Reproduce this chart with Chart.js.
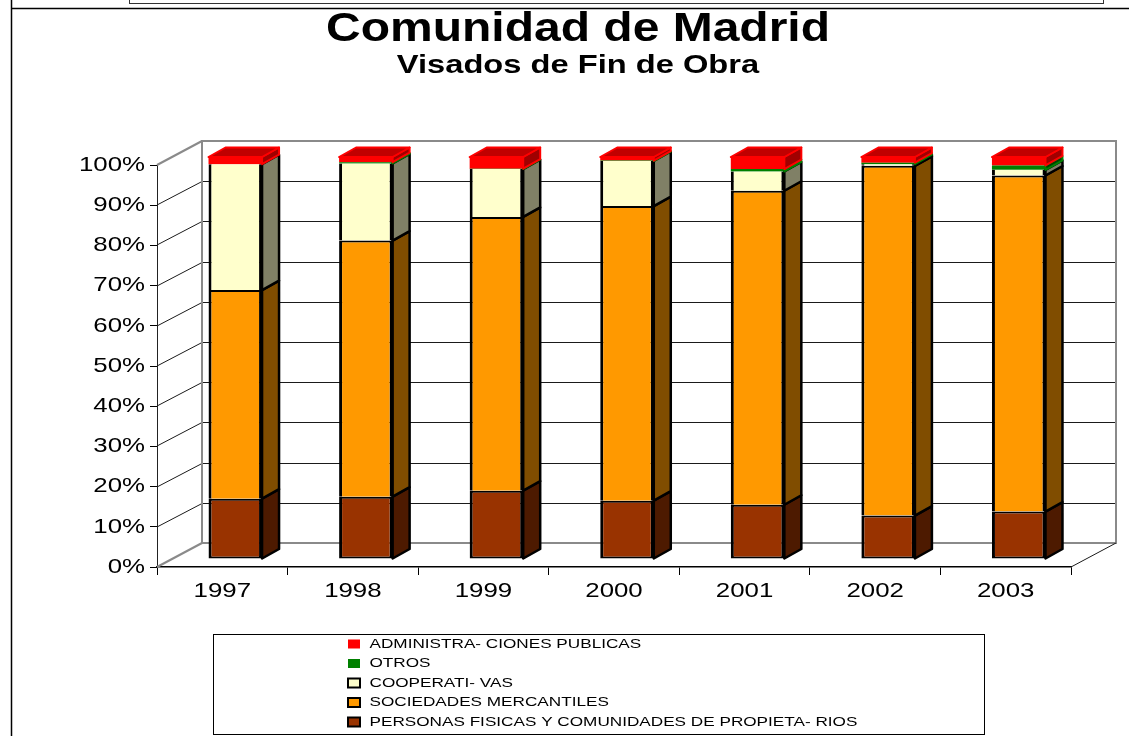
<!DOCTYPE html>
<html>
<head>
<meta charset="utf-8">
<style>html,body{margin:0;padding:0;background:#fff}canvas{display:block}</style>
<script src="https://cdn.jsdelivr.net/npm/chart.js@4/dist/chart.umd.min.js"></script>
</head>
<body>
<canvas id="c" width="1129" height="736"></canvas>
<script>
const years = ['1997','1998','1999','2000','2001','2002','2003'];
const personas = [15.0,15.5,17.0,14.5,13.5,10.8,11.8];
const sociedades = [51.9,63.7,68.1,73.3,78.1,87.0,83.6];
const cooperativas = [31.3,19.2,11.9,11.2,4.8,0.4,1.4];
const otros = [0,0.3,0.1,0.1,0.6,0.4,1.1];
const administraciones = [1.8,1.3,2.9,0.9,3.0,1.4,2.1];
const titleText = 'Comunidad de Madrid';
const subtitleText = 'Visados de Fin de Obra';
const seriesNames = ['PERSONAS FISICAS Y COMUNIDADES DE PROPIETA- RIOS','SOCIEDADES MERCANTILES','COOPERATI- VAS','OTROS','ADMINISTRA- CIONES PUBLICAS'];

const FONT = '"Liberation Sans", Arial, sans-serif';
const WALL = {dx:45, dy:-24.5};
const BAR = {dx:13, dy:-8};
const DEPTH = {dx:17, dy:-9.5};
const GRAY = '#8a8a8a';

// The reference text is horizontally stretched: draw it through a widened fillText.
function stretched(obj, method, sx, dx){
  const orig = obj[method];
  obj[method] = function(...a){
    const c = this.ctx;
    c.fillText = function(t,x,y){
      c.save(); c.translate(x+(dx||0),y); c.scale(sx,1);
      CanvasRenderingContext2D.prototype.fillText.call(c,t,0,0);
      c.restore();
    };
    const r = orig.apply(this, a);
    delete c.fillText;
    return r;
  };
}
function seg(ctx,x1,y1,x2,y2){ctx.beginPath();ctx.moveTo(x1,y1);ctx.lineTo(x2,y2);ctx.stroke();}
function poly(ctx,pts,fill,stroke,lw){
  ctx.beginPath();pts.forEach((p,i)=>i?ctx.lineTo(p[0],p[1]):ctx.moveTo(p[0],p[1]));ctx.closePath();
  ctx.fillStyle=fill;ctx.fill();
  ctx.strokeStyle=stroke;ctx.lineWidth=lw;ctx.lineJoin='round';ctx.stroke();
}

const scene = {
  id:'scene',
  afterLayout(chart){
    const lg = chart.legend;
    lg.left=341.5; lg.top=631; lg.width=640; lg.height=104; lg.right=981; lg.bottom=735;
    lg.adjustHitBoxes();
    if(chart.$wrapped) return;
    chart.$wrapped = true;
    chart.boxes.forEach(b=>{
      if(b === lg) stretched(b,'draw',1.32,3);
      else if(b.axis){ stretched(b,'drawLabels',1.23); b._computeLabelArea = ()=>undefined; }
      else if(b === chart.titleBlock) stretched(b,'draw',1.2);
      else stretched(b,'draw',1.256);
    });
  },
  beforeDraw(chart){
    const ctx = chart.ctx; ctx.save();
    ctx.strokeStyle='#000'; ctx.lineWidth=1.5;
    seg(ctx,11.5,0,11.5,736);
    seg(ctx,11,8.5,1129,8.5);
    ctx.strokeStyle='#333'; ctx.lineWidth=1;
    seg(ctx,129.5,0,129.5,3.5); seg(ctx,129,3.5,1103,3.5); seg(ctx,1103.5,0,1103.5,4);
    ctx.strokeStyle='#000';
    ctx.strokeRect(213.5,634.5,771,100);
    ctx.restore();
  },
  beforeDatasetsDraw(chart){
    const ctx = chart.ctx, y = chart.scales.y, a = chart.chartArea;
    ctx.save();
    const L=a.left+WALL.dx, R=a.right+WALL.dx;
    y.ticks.forEach(t=>{
      const py=Math.round(y.getPixelForValue(t.value)), by=Math.round(py+WALL.dy)+0.5;
      const edge = t.value===0||t.value===100;
      ctx.strokeStyle = '#1a1a1a'; ctx.lineWidth = 1;
      if(!edge){ seg(ctx,L,by,R,by); seg(ctx,a.left,py,L,by); }
    });
    ctx.strokeStyle=GRAY; ctx.lineWidth=2;
    const top=Math.round(y.getPixelForValue(100)+WALL.dy), bot=Math.round(y.getPixelForValue(0)+WALL.dy);
    ctx.beginPath();
    ctx.moveTo(L,bot);ctx.lineTo(L,top);ctx.lineTo(R,top);ctx.lineTo(R,bot);ctx.lineTo(L,bot);
    ctx.stroke();
    seg(ctx,a.left,y.getPixelForValue(100),L,top);
    seg(ctx,a.left,y.getPixelForValue(0),L,bot);
    ctx.strokeStyle='#1a1a1a'; ctx.lineWidth=1;
    seg(ctx,a.right,y.getPixelForValue(0),R,bot);
    ctx.restore();
    ctx.save();
    ctx.translate(BAR.dx,BAR.dy);
  },
  afterDatasetsDraw(chart){
    const ctx = chart.ctx, n = chart.data.labels.length;
    for(let j=0;j<n;j++){
      let lastEl=null;
      chart.data.datasets.forEach((ds,i)=>{
        const el = chart.getDatasetMeta(i).data[j];
        if(ds.data[j]<=0) return;
        const rx = el.x+el.width/2, t=el.y, b=el.base;
        poly(ctx,[[rx,t],[rx+DEPTH.dx,t+DEPTH.dy],[rx+DEPTH.dx,b+DEPTH.dy],[rx,b]],ds.sideColor,ds.edgeColor,ds.edgeWidth);
        lastEl={el,ds};
      });
      const {el,ds}=lastEl, lx=el.x-el.width/2, rx=el.x+el.width/2, t=el.y;
      poly(ctx,[[lx,t],[lx+DEPTH.dx,t+DEPTH.dy],[rx+DEPTH.dx,t+DEPTH.dy],[rx,t]],ds.topColor,ds.edgeColor,ds.edgeWidth);
    }
    ctx.restore();
  }
};

const bw = (t,b)=>({left:3,right:3,top:t,bottom:b});
new Chart(document.getElementById('c'),{
  type:'bar',
  data:{labels:years,datasets:[
    {label:seriesNames[0],data:personas,backgroundColor:'#993300',borderColor:'#000',borderWidth:bw(2,2),sideColor:'#4d1a00',edgeColor:'#000',edgeWidth:2.5,topColor:'#c05a20',legendLine:2},
    {label:seriesNames[1],data:sociedades,backgroundColor:'#ff9900',borderColor:'#000',borderWidth:bw(2,0),sideColor:'#804d00',edgeColor:'#000',edgeWidth:2.5,topColor:'#c07400',legendLine:2},
    {label:seriesNames[2],data:cooperativas,backgroundColor:'#ffffcc',borderColor:'#000',borderWidth:bw(0,0),sideColor:'#808066',edgeColor:'#000',edgeWidth:2.5,topColor:'#c0c09a',legendLine:2},
    {label:seriesNames[3],data:otros,backgroundColor:'#008000',borderWidth:0,sideColor:'#004000',edgeColor:'#008000',edgeWidth:2,topColor:'#006000',legendLine:0},
    {label:seriesNames[4],data:administraciones,backgroundColor:'#ff0000',borderWidth:0,sideColor:'#a00000',edgeColor:'#ff0000',edgeWidth:2,topColor:'#c00000',legendLine:0}
  ].map(d=>Object.assign(d,{stack:'a',clip:false,borderSkipped:false}))},
  plugins:[scene],
  options:{
    responsive:false,
    animation:false,
    events:[],
    datasets:{bar:{barPercentage:0.41,categoryPercentage:1}},
    layout:{padding:{left:85,right:58,top:0,bottom:0}},
    plugins:{
      tooltip:{enabled:false},
      title:{display:true,text:titleText,color:'#000',font:{family:FONT,size:40,weight:'bold',lineHeight:1.0},padding:{top:10,bottom:0}},
      subtitle:{display:true,text:subtitleText,color:'#000',font:{family:FONT,size:26,weight:'bold',lineHeight:1.2},padding:{top:0,bottom:83.8}},
      legend:{
        display:true,position:'chartArea',align:'start',
        labels:{
          color:'#000',font:{family:FONT,size:13},boxWidth:12,boxHeight:9,padding:6.5,
          generateLabels(chart){
            return Chart.defaults.plugins.legend.labels.generateLabels(chart).map(it=>{
              const ds=chart.data.datasets[it.datasetIndex];
              return Object.assign(it,{lineWidth:ds.legendLine,strokeStyle:ds.legendLine?'#000':ds.backgroundColor,fontColor:'#000'});
            }).reverse();
          }
        }
      }
    },
    scales:{
      x:{
        stacked:true,
        afterFit(s){s.height=169;},
        border:{display:true,color:'#000',width:1.5},
        grid:{display:true,drawOnChartArea:false,drawTicks:true,tickLength:8,tickColor:'#000',tickWidth:1},
        ticks:{color:'#000',padding:4,maxRotation:0,autoSkip:false,font:{family:FONT,size:21}}
      },
      y:{
        stacked:true,min:0,max:100,
        afterFit(s){s.width=72;},
        border:{display:true,color:'#222',width:1},
        grid:{display:true,drawOnChartArea:false,drawTicks:true,tickLength:7,tickColor:'#000',tickWidth:1},
        ticks:{color:'#000',padding:5,stepSize:10,font:{family:FONT,size:21},callback:v=>v+'%'}
      }
    }
  }
});
</script>
</body>
</html>
